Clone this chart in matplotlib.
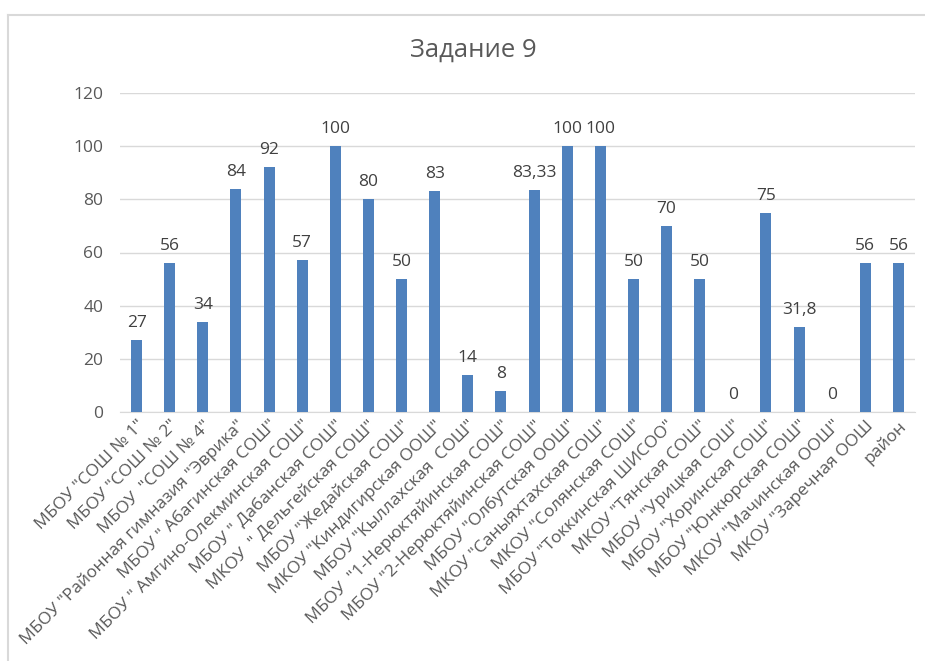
import matplotlib
matplotlib.use("Agg")
import matplotlib.pyplot as plt
from matplotlib.lines import Line2D

categories = [
    'МБОУ "СОШ № 1"', 'МБОУ "СОШ № 2"', 'МБОУ  "СОШ № 4"',
    'МБОУ "Районная гимназия "Эврика"', 'МБОУ " Абагинская СОШ"',
    'МБОУ " Амгино-Олекминская СОШ"', 'МБОУ " Дабанская СОШ"',
    'МКОУ  " Дельгейская СОШ"', 'МБОУ "Жедайская СОШ"',
    'МКОУ "Киндигирская ООШ"', 'МБОУ "Кыллахская  СОШ"',
    'МБОУ  "1-Нерюктяйинская СОШ"', 'МБОУ "2-Нерюктяйинская СОШ"',
    'МБОУ "Олбутская ООШ"', 'МКОУ "Саныяхтахская СОШ"',
    'МКОУ "Солянская СОШ"', 'МБОУ "Токкинская ШИСОО"',
    'МКОУ "Тянская СОШ"', 'МБОУ "Урицкая СОШ"', 'МБОУ "Хоринская СОШ"',
    'МБОУ "Юнкюрская СОШ"', 'МКОУ "Мачинская ООШ"', 'МКОУ "Заречная ООШ',
    'район',
]
values = [27, 56, 34, 84, 92, 57, 100, 80, 50, 83, 14, 8, 83.33, 100, 100,
          50, 70, 50, 0, 75, 31.8, 0, 56, 56]
value_labels = ['27', '56', '34', '84', '92', '57', '100', '80', '50', '83',
                '14', '8', '83,33', '100', '100', '50', '70', '50', '0', '75',
                '31,8', '0', '56', '56']
yticks = [0, 20, 40, 60, 80, 100, 120]

plt.rcParams['font.family'] = ['Open Sans', 'DejaVu Sans']

fig = plt.figure(figsize=(9.25, 6.61), dpi=100)
ax = fig.add_axes([120/925, 1-412/661, 795/925, (412-93)/661])

x = list(range(len(categories)))
ax.bar(x, values, width=0.33, color='#4F81BD', zorder=3)
for xi, v, lab in zip(x, values, value_labels):
    ax.annotate(lab, (xi, v), xytext=(0, 6.5), textcoords='offset points',
                ha='center', va='bottom', fontsize=12.5, color='#404040')

ax.set_xlim(-0.5, len(categories) - 0.5)
ax.set_ylim(0, 120)
ax.set_yticks(yticks)
ax.set_yticklabels([str(t) for t in yticks])
ax.yaxis.grid(True, color='#d9d9d9', linewidth=1, zorder=0)
ax.set_axisbelow(True)
for s in ['top', 'right', 'left']:
    ax.spines[s].set_visible(False)
ax.spines['bottom'].set_color('#d9d9d9')
ax.tick_params(axis='y', length=0, pad=12, labelsize=12.5, labelcolor='#595959')
ax.tick_params(axis='x', length=0, pad=4, labelsize=12.5, labelcolor='#595959')
ax.set_xticks(x)
ax.set_xticklabels(categories, rotation=45, ha='right', rotation_mode='anchor')

fig.text(473/925, 1-50/661, 'Задание 9', ha='center', va='center',
         fontsize=18.5, color='#595959')

# chart frame
fig.add_artist(Line2D([8/925, 8/925], [0, 1-15/661], transform=fig.transFigure,
                      color='#d9d9d9', linewidth=1.5))
fig.add_artist(Line2D([8/925, 1], [1-15/661, 1-15/661], transform=fig.transFigure,
                      color='#d9d9d9', linewidth=1.5))

fig.savefig('out.png', dpi=100)
